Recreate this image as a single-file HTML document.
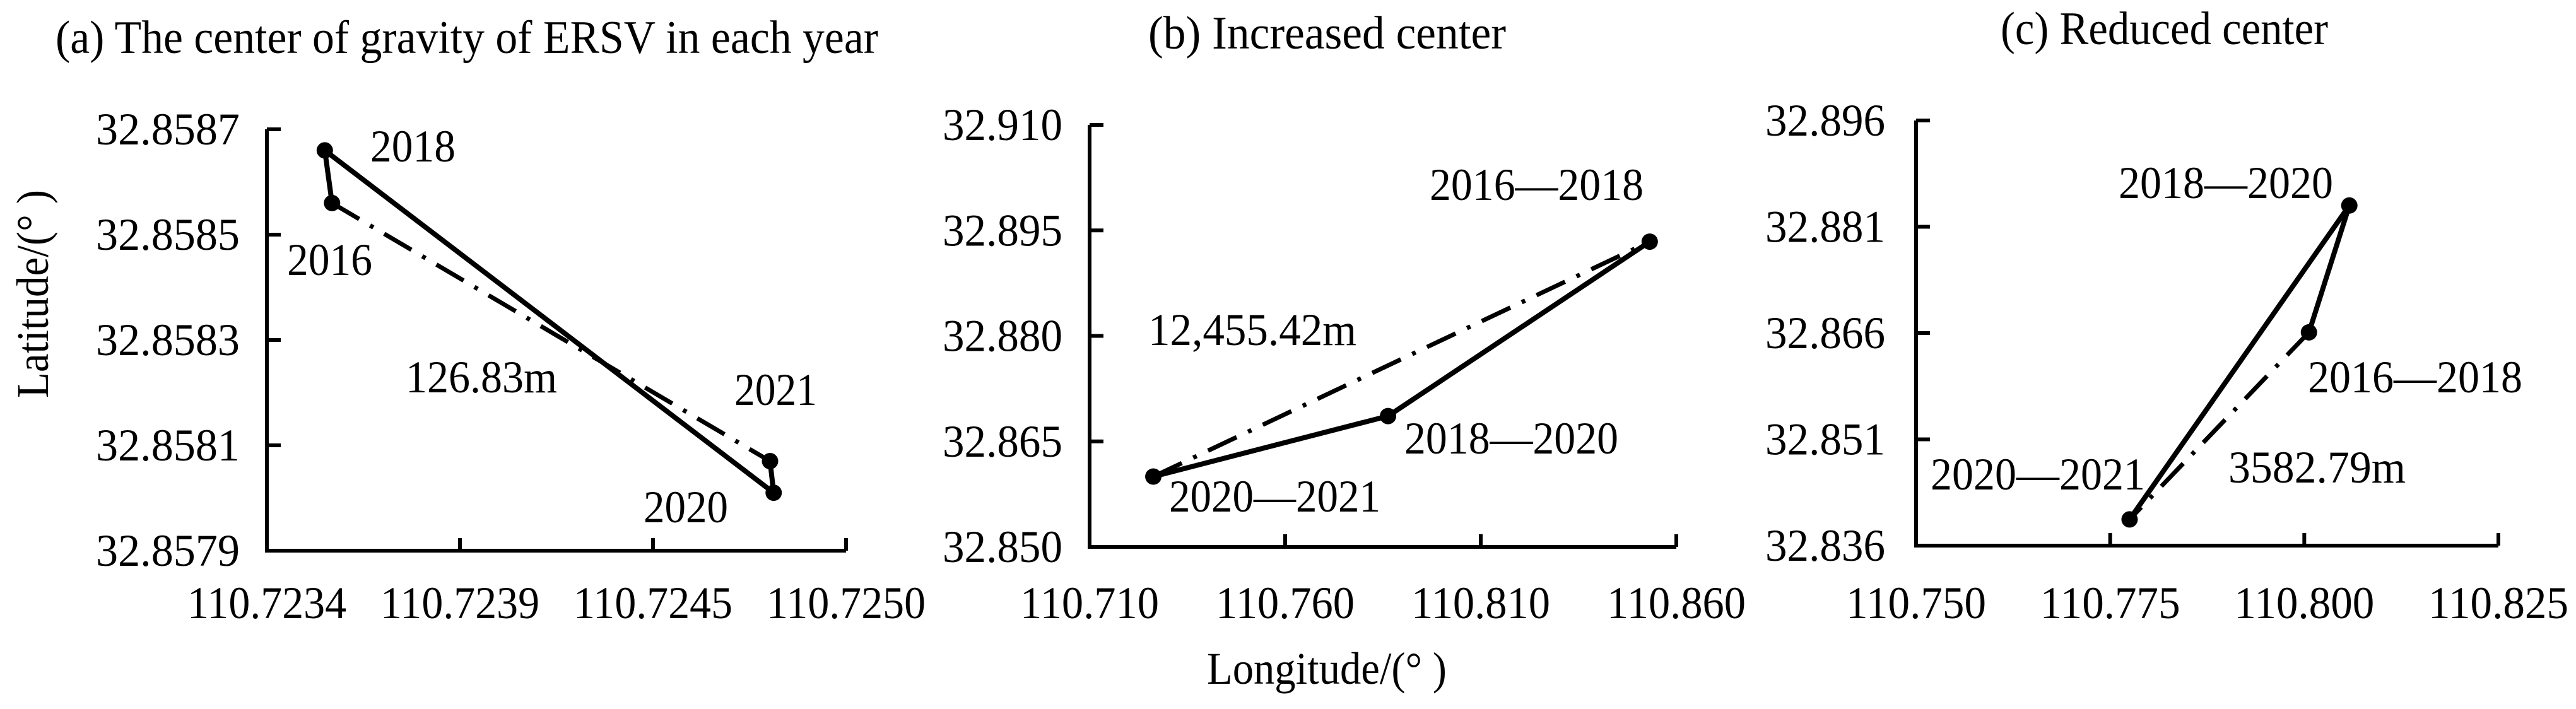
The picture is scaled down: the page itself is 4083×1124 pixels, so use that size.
<!DOCTYPE html>
<html><head><meta charset="utf-8">
<style>
html,body{margin:0;padding:0;background:#fff;}
svg{display:block;}
text{font-family:"Liberation Serif",serif;fill:#000;}
</style></head>
<body>
<svg id="fig" width="4083" height="1124" viewBox="0 0 4083 1124" xmlns="http://www.w3.org/2000/svg">
<rect width="4083" height="1124" fill="#fff"/>
<text x="88" y="84" font-size="74" textLength="1304" lengthAdjust="spacingAndGlyphs">(a) The center of gravity of ERSV in each year</text>
<text x="1820" y="77" font-size="74" textLength="567" lengthAdjust="spacingAndGlyphs">(b)  Increased  center</text>
<text x="3171" y="70" font-size="74" textLength="519" lengthAdjust="spacingAndGlyphs">(c)  Reduced center</text>
<text transform="translate(76,466) rotate(-90)" text-anchor="middle" font-size="72" textLength="330" lengthAdjust="spacingAndGlyphs">Latitude/(° )</text>
<text x="1913" y="1084" font-size="72" textLength="380" lengthAdjust="spacingAndGlyphs">Longitude/(° )</text>
</svg>
<script>
// Panel (a): center of gravity each year
const aXTicks = ["110.7234","110.7239","110.7245","110.7250"];
const aYTicks = ["32.8579","32.8581","32.8583","32.8585","32.8587"];
const aNames = ["2016","2018","2020","2021"];
const aLon = [110.72358, 110.72356, 110.72480, 110.72479];
const aLat = [32.85856, 32.85866, 32.85801, 32.85807];
// Panel (b): increased center
const bXTicks = ["110.710","110.760","110.810","110.860"];
const bYTicks = ["32.850","32.865","32.880","32.895","32.910"];
const bNames = ["2016—2018","2018—2020","2020—2021"];
const bLon = [110.8532, 110.7863, 110.7263];
const bLat = [32.8934, 32.8686, 32.8600];
// Panel (c): reduced center
const cXTicks = ["110.750","110.775","110.800","110.825"];
const cYTicks = ["32.836","32.851","32.866","32.881","32.896"];
const cNames = ["2016—2018","2018—2020","2020—2021"];
const cLon = [110.8006, 110.8058, 110.7775];
const cLat = [32.8661, 32.8840, 32.8397];
const distLabels = ["126.83m","12,455.42m","3582.79m"];

const NS = "http://www.w3.org/2000/svg";
const svg = document.getElementById("fig");
function mk(tag, attrs, parent){
  const e = document.createElementNS(NS, tag);
  for (const k in attrs) e.setAttribute(k, attrs[k]);
  (parent||svg).appendChild(e);
  return e;
}

function panel(key, box, xT, yT, lon, lat, solidIdx, dashIdx, labels, dist){
  const g = mk("g", {});
  
  
  const xmin = parseFloat(xT[0]), xmax = parseFloat(xT[xT.length-1]);
  const ymin = parseFloat(yT[0]), ymax = parseFloat(yT[yT.length-1]);
  const sx = v => box.x0 + (v - xmin) / (xmax - xmin) * (box.x1 - box.x0);
  const sy = v => box.y1 - (v - ymin) / (ymax - ymin) * (box.y1 - box.y0);
  const ax = mk("path", {d:`M${box.x0},${box.y0} V${box.y1} H${box.x1}`, fill:"none", stroke:"#000", "stroke-width":6}, g);
  
  
  yT.forEach((t,i)=>{
    const y = box.y1 - i/(yT.length-1)*(box.y1-box.y0);
    const tk = mk("line", {x1:box.x0, x2:box.x0+22, y1:y, y2:y, stroke:"#000","stroke-width":6}, g);
    
    
    const tx = mk("text", {x:box.ylab, y:y+24, "text-anchor":"end", "font-size":72, textLength:box.yw, lengthAdjust:"spacingAndGlyphs"}, g);
    tx.textContent = t;
    
    
  });
  xT.forEach((t,i)=>{
    const x = box.x0 + i/(xT.length-1)*(box.x1-box.x0);
    const tk = mk("line", {x1:x, x2:x, y1:box.y1, y2:box.y1-20, stroke:"#000","stroke-width":6}, g);
    
    
    const tx = mk("text", {x:x, y:980, "text-anchor":"middle", "font-size":72, textLength:box.xw, lengthAdjust:"spacingAndGlyphs"}, g);
    tx.textContent = t;
    
    
  });
  const dp = mk("path", {d: dashIdx.map((k,i)=>(i?"L":"M")+sx(lon[k])+","+sy(lat[k])).join(" "),
    fill:"none", stroke:"#000", "stroke-width":7, "stroke-dasharray":"50 20 6 20"}, g);
  
  
  const sp = mk("path", {d: solidIdx.map((k,i)=>(i?"L":"M")+sx(lon[k])+","+sy(lat[k])).join(" "),
    fill:"none", stroke:"#000", "stroke-width":8, "stroke-linejoin":"round"}, g);
  
  
  lon.forEach((v,i)=>{
    const c = mk("circle", {cx:sx(v), cy:sy(lat[i]), r:13, fill:"#000"}, g);
    
    
  });
  labels.forEach(l=>{
    const t = mk("text", {x:l[1], y:l[2], "font-size":72, textLength:l[3], lengthAdjust:"spacingAndGlyphs"}, g);
    t.textContent = l[0];
    
    
  });
  const d = mk("text", {x:dist[1], y:dist[2], "font-size":72, textLength:dist[3], lengthAdjust:"spacingAndGlyphs"}, g);
  d.textContent = dist[0];
  
  
}

panel("a", {x0:423, x1:1341, y0:205, y1:873, ylab:380, yw:228, xw:252}, aXTicks, aYTicks, aLon, aLat,
  [0,1,2,3], [0,3],
  [[aNames[1],587,256,135],[aNames[0],455,436,135],[aNames[3],1164,642,131],[aNames[2],1020,828,134]],
  [distLabels[0],643,622,240]);
panel("b", {x0:1727, x1:2657, y0:198, y1:867, ylab:1684, yw:190, xw:220}, bXTicks, bYTicks, bLon, bLat,
  [2,1,0], [2,0],
  [[bNames[0],2266,317,339],[bNames[1],2226,719,339],[bNames[2],1853,811,335]],
  [distLabels[1],1820,547,330]);
panel("c", {x0:3037, x1:3960, y0:191, y1:865, ylab:2988, yw:190, xw:222}, cXTicks, cYTicks, cLon, cLat,
  [0,1,2], [0,2],
  [[cNames[1],3358,314,340],[cNames[0],3658,622,340],[cNames[2],3060,776,340]],
  [distLabels[2],3532,765,281]);
</script>
</body></html>
